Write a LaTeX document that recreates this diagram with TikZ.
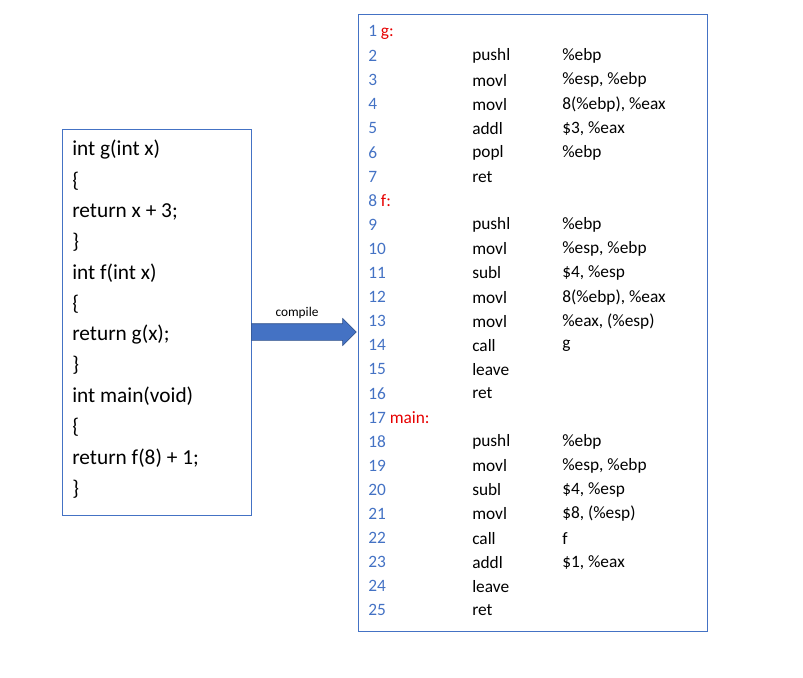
\documentclass[tikz,border=0pt]{standalone}
\usepackage{fontspec}
\setmainfont{Carlito}
\usetikzlibrary{shapes.arrows}
\definecolor{numblue}{RGB}{68,114,196}
\definecolor{boxblue}{RGB}{68,114,196}
\definecolor{lblred}{RGB}{230,0,0}
\tikzset{src/.style={anchor=west,font=\fontsize{16}{19}\selectfont,inner sep=0pt},
 asm/.style={anchor=west,font=\fontsize{13}{15}\selectfont,inner sep=0pt},
 num/.style={asm,text=numblue}}
\begin{document}
\begin{tikzpicture}[x=0.75pt,y=-0.75pt]
\useasboundingbox (0,0) rectangle (803,678);
% source code
\draw[boxblue] (62,129) rectangle (251,515);
\foreach \t [count=\i] in {int g(int x),\{,return x + 3;,\},int f(int x),\{,return g(x);,\},int main(void),\{,return f(8) + 1;,\}}
  \node[src] (s\i) at (72,{150+30.8*(\i-1)}) {\t};
% arrow
\node[single arrow,draw=boxblue!70!black,fill=boxblue,minimum height=105*0.75pt,inner xsep=0pt,inner ysep=6pt,single arrow head extend=4pt,single arrow head indent=0pt,anchor=tail] (arr) at (251,332) {};
\node[font=\fontsize{10}{12}\selectfont] (cmp) at (297,313) {compile};
% assembly
\draw[boxblue] (358,14) rectangle (707,631);
\foreach \a/\b/\c [count=\i] in {{\color{lblred}g:}//,/pushl/\%ebp,/movl/{\%esp, \%ebp},/movl/{8(\%ebp), \%eax},/addl/{\$3, \%eax},/popl/\%ebp,/ret/,
 {\color{lblred}f:}//,/pushl/\%ebp,/movl/{\%esp, \%ebp},/subl/{\$4, \%esp},/movl/{8(\%ebp), \%eax},/movl/{\%eax, (\%esp)},/call/g,/leave/,/ret/,
 {\color{lblred}main:}//,/pushl/\%ebp,/movl/{\%esp, \%ebp},/subl/{\$4, \%esp},/movl/{\$8, (\%esp)},/call/f,/addl/{\$1, \%eax},/leave/,/ret/}
{
  \node[num] (n\i) at (368,{32+24.1*(\i-1)}) {\i\ \a};
  \node[asm] (o\i) at (472,{32+24.1*(\i-1)}) {\b};
  \node[asm] (p\i) at (562,{32+24.1*(\i-1)}) {\c};
}
\end{tikzpicture}
\end{document}
